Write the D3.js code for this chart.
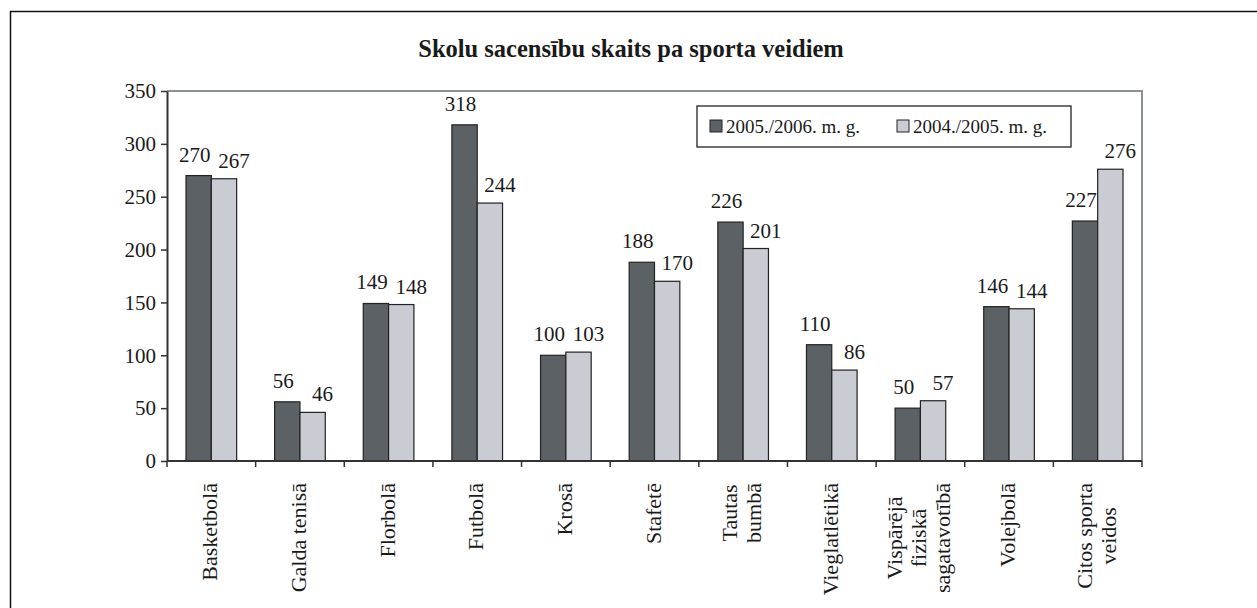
<!DOCTYPE html>
<html>
<head>
<meta charset="utf-8">
<script src="https://cdn.jsdelivr.net/npm/d3@7"></script>
<style>
  body { margin: 0; background: #fff; }
  svg { display: block; }
  text { font-family: "Liberation Serif", "Times New Roman", serif; }
</style>
</head>
<body>
<svg id="chart" width="1257" height="608"></svg>
<script>
// ---------------- DATA ----------------

const title = "Skolu sacensību skaits pa sporta veidiem";
const categories = [
  "Basketbolā", "Galda tenisā", "Florbolā", "Futbolā", "Krosā", "Stafetē",
  "Tautas\nbumbā", "Vieglatlētikā", "Vispārējā\nfiziskā\nsagatavotībā",
  "Volejbolā", "Citos sporta\nveidos"
];
const seriesNames = ["2005./2006. m. g.", "2004./2005. m. g."];
const values2006 = [270, 56, 149, 318, 100, 188, 226, 110, 50, 146, 227];
const values2005 = [267, 46, 148, 244, 103, 170, 201, 86, 57, 144, 276];
const yTicks = [0, 50, 100, 150, 200, 250, 300, 350];

const colors = ["#5b6164", "#c9ccd3"];
const serif = "Liberation Serif, Times New Roman, serif";

// ---------------- SETUP ----------------

const svg = d3.select("#chart").attr("font-family", serif);
const plotL = 167, plotR = 1142, plotT = 91, plotB = 461;

// outer frame (cut off on right / bottom like the scan)
svg.append("rect")
  .attr("x", 10.5).attr("y", 11.5)
  .attr("width", 1300).attr("height", 700)
  .attr("fill", "none").attr("stroke", "#111").attr("stroke-width", 1.5);

svg.append("text")
  .attr("x", 631).attr("y", 57)
  .attr("text-anchor", "middle")
  .attr("font-family", serif)
  .attr("font-size", 24.5).attr("font-weight", "bold")
  .attr("fill", "#1a1a1a")
  .text(title);

const x0 = d3.scaleBand().domain(categories).range([plotL, plotR]);
const groupW = x0.bandwidth() / 1.75;
const x1 = d3.scaleBand().domain([0, 1]).range([0, groupW]);
const y = d3.scaleLinear().domain([0, 350]).range([plotB, plotT]);

// plot frame: gray top + right
svg.append("path")
  .attr("d", `M${plotL},${plotT}H${plotR}V${plotB}`)
  .attr("fill", "none").attr("stroke", "#8a9096").attr("stroke-width", 2);

// ---------------- BARS ----------------

const rows = categories.map((c, i) => ({ cat: c, vals: [values2006[i], values2005[i]] }));

const groups = svg.append("g").selectAll("g")
  .data(rows)
  .join("g")
  .attr("transform", d => `translate(${x0(d.cat) + (x0.bandwidth() - groupW) / 2},0)`);

groups.selectAll("rect")
  .data(d => d.vals.map((v, k) => ({ v, k })))
  .join("rect")
  .attr("x", d => x1(d.k))
  .attr("y", d => y(d.v))
  .attr("width", x1.bandwidth())
  .attr("height", d => y(0) - y(d.v))
  .attr("fill", d => colors[d.k])
  .attr("stroke", "#222").attr("stroke-width", 1.2);

// value labels, nudged like the original
groups.selectAll("text")
  .data(d => d.vals.map((v, k) => ({ v, k })))
  .join("text")
  .attr("x", d => x1(d.k) + x1.bandwidth() / 2 + (d.k === 0 ? -4 : 10))
  .attr("y", d => y(d.v) - (d.k === 0 ? 14 : 11))
  .attr("text-anchor", "middle")
  .attr("font-family", serif)
  .attr("font-size", 21)
  .attr("fill", "#1a1a1a")
  .text(d => d.v);

// ---------------- AXES ----------------

const yAxis = svg.append("g")
  .attr("transform", `translate(${plotL},0)`)
  .call(d3.axisLeft(y).tickValues(yTicks).tickSize(6).tickSizeOuter(0).tickPadding(5))
  .attr("font-family", serif);
yAxis.select(".domain").attr("stroke", "#333").attr("stroke-width", 2);
yAxis.selectAll(".tick line").attr("stroke", "#333").attr("stroke-width", 1.5);
yAxis.selectAll(".tick text")
  .attr("font-family", serif)
  .attr("font-size", 21).attr("fill", "#1a1a1a");

// bottom axis with ticks at band boundaries
const xAxis = svg.append("g");
xAxis.append("line")
  .attr("x1", plotL).attr("x2", plotR)
  .attr("y1", plotB).attr("y2", plotB)
  .attr("stroke", "#333").attr("stroke-width", 2);
const bounds = categories.map(c => x0(c)).concat([plotR]);
xAxis.selectAll(".xt")
  .data(bounds)
  .join("line")
  .attr("class", "xt")
  .attr("x1", d => d).attr("x2", d => d)
  .attr("y1", plotB).attr("y2", plotB + 6)
  .attr("stroke", "#333").attr("stroke-width", 1.5);

// rotated category labels, top-aligned at y=483, lines centered in block
const lh = 24;
categories.forEach(c => {
  const lines = c.split("\n");
  const cx = x0(c) + x0.bandwidth() / 2;
  const g = svg.append("g").attr("transform", `translate(${cx},483) rotate(-90)`);
  const texts = g.selectAll("text")
    .data(lines)
    .join("text")
    .attr("font-family", serif)
    .attr("font-size", 22)
    .attr("fill", "#1a1a1a")
    .attr("text-anchor", "middle")
    .text(d => d);
  const maxW = d3.max(texts.nodes(), n => n.getComputedTextLength());
  texts
    .attr("x", -maxW / 2)
    .attr("y", (d, i) => (i - (lines.length - 1) / 2) * lh + 6);
});

// ---------------- LEGEND ----------------

const legend = svg.append("g");
legend.append("rect")
  .attr("x", 697).attr("y", 106).attr("width", 374).attr("height", 41)
  .attr("fill", "#fff").attr("stroke", "#222").attr("stroke-width", 1.3);
const legendX = [710, 897];
seriesNames.forEach((name, k) => {
  legend.append("rect")
    .attr("x", legendX[k]).attr("y", 120).attr("width", 12).attr("height", 12)
    .attr("fill", colors[k]).attr("stroke", "#222").attr("stroke-width", 1);
  legend.append("text")
    .attr("x", legendX[k] + 16).attr("y", 133)
    .attr("font-family", serif)
    .attr("font-size", 19).attr("fill", "#1a1a1a")
    .text(name);
});
</script>
</body>
</html>
